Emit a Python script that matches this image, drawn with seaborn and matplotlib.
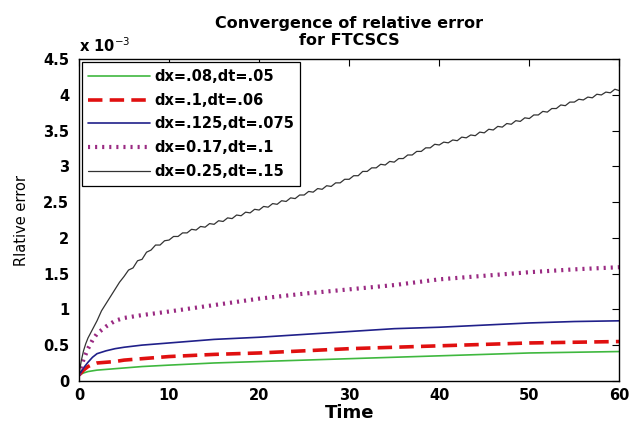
import matplotlib
matplotlib.use("Agg")
import matplotlib.pyplot as plt
import seaborn as sns
import pandas as pd

# ---- data (relative error in units of 1e-3) ----
t_coarse = [0, 0.5, 1, 1.5, 2, 3, 4, 5, 7, 10, 15, 20, 25, 30, 35, 40, 45, 50, 55, 60]
err_008 = [0.08, 0.11, 0.13, 0.14, 0.15, 0.16, 0.17, 0.18, 0.20, 0.22, 0.25, 0.27,
           0.29, 0.31, 0.33, 0.35, 0.37, 0.39, 0.40, 0.41]
err_010 = [0.08, 0.15, 0.20, 0.23, 0.25, 0.26, 0.27, 0.29, 0.31, 0.34, 0.37, 0.39,
           0.42, 0.45, 0.47, 0.49, 0.51, 0.53, 0.54, 0.55]
err_0125 = [0.08, 0.18, 0.26, 0.33, 0.38, 0.42, 0.45, 0.47, 0.50, 0.53, 0.58, 0.61,
            0.65, 0.69, 0.73, 0.75, 0.78, 0.81, 0.83, 0.84]
err_017 = [0.08, 0.30, 0.45, 0.57, 0.66, 0.76, 0.84, 0.88, 0.92, 0.97, 1.06, 1.15,
           1.22, 1.28, 1.34, 1.42, 1.47, 1.52, 1.56, 1.59]

t_fine = [0, 0.25, 0.5, 0.75, 1, 1.5, 2, 2.5, 3, 3.5, 4, 4.5, 5, 5.5, 6, 6.5, 7, 7.5,
          8, 8.5, 9, 9.5, 10, 10.5, 11, 11.5, 12, 12.5, 13, 13.5, 14, 14.5, 15, 15.5,
          16, 16.5, 17, 17.5, 18, 18.5, 19, 19.5, 20, 20.5, 21, 21.5, 22, 22.5, 23, 23.5,
          24, 24.5, 25, 25.5, 26, 26.5, 27, 27.5, 28, 28.5, 29, 29.5, 30, 30.5, 31, 31.5,
          32, 32.5, 33, 33.5, 34, 34.5, 35, 35.5, 36, 36.5, 37, 37.5, 38, 38.5, 39, 39.5,
          40, 40.5, 41, 41.5, 42, 42.5, 43, 43.5, 44, 44.5, 45, 45.5, 46, 46.5, 47, 47.5,
          48, 48.5, 49, 49.5, 50, 50.5, 51, 51.5, 52, 52.5, 53, 53.5, 54, 54.5, 55, 55.5,
          56, 56.5, 57, 57.5, 58, 58.5, 59, 59.5, 60]
err_025 = [0.08, 0.28, 0.42, 0.52, 0.60, 0.72, 0.84, 0.98, 1.08, 1.18, 1.28, 1.38,
           1.46, 1.55, 1.58, 1.68, 1.70, 1.80,
           1.83, 1.90, 1.90, 1.96, 1.97, 2.02, 2.02, 2.07, 2.07, 2.12, 2.11, 2.16,
           2.15, 2.20, 2.19, 2.24, 2.23, 2.28, 2.27, 2.32, 2.31, 2.36, 2.35, 2.40,
           2.39, 2.44, 2.43, 2.48, 2.47, 2.52, 2.51, 2.56, 2.55, 2.60, 2.60, 2.65,
           2.64, 2.69, 2.68, 2.73, 2.72, 2.77, 2.77, 2.82, 2.82, 2.87, 2.87, 2.93,
           2.93, 2.98, 2.98, 3.03, 3.02, 3.07, 3.06, 3.11, 3.11, 3.16, 3.16, 3.21,
           3.21, 3.26, 3.26, 3.31, 3.30, 3.34, 3.33, 3.37, 3.36, 3.41, 3.40, 3.44,
           3.43, 3.48, 3.47, 3.52, 3.51, 3.56, 3.55, 3.60, 3.59, 3.64, 3.63, 3.68,
           3.67, 3.72, 3.72, 3.77, 3.76, 3.81, 3.81, 3.86, 3.85, 3.90, 3.90, 3.94,
           3.93, 3.97, 3.96, 4.01, 4.00, 4.04, 4.03, 4.08, 4.06]

labels = ["dx=.08,dt=.05", "dx=.1,dt=.06", "dx=.125,dt=.075",
          "dx=0.17,dt=.1", "dx=0.25,dt=.15"]
x_ticks = [0, 10, 20, 30, 40, 50, 60]
y_ticks = [0, 0.5, 1, 1.5, 2, 2.5, 3, 3.5, 4, 4.5]
y_tick_labels = ["0", "0.5", "1", "1.5", "2", "2.5", "3", "3.5", "4", "4.5"]

sns.set_style("white")
plt.rcParams["font.family"] = ["DejaVu Sans"]
for k in ["text.color", "axes.labelcolor", "xtick.color", "ytick.color"]:
    plt.rcParams[k] = "black"

fig = plt.figure(figsize=(6.32, 4.26), dpi=100)
ax = fig.add_axes([0.125, 0.106, 0.855, 0.755])

series = [
    (t_coarse, err_008, labels[0], dict(color="#3fb83f", lw=1.2, ls="-")),
    (t_coarse, err_010, labels[1], dict(color="#e01010", lw=2.6, dashes=(4, 2))),
    (t_coarse, err_0125, labels[2], dict(color="#20208a", lw=1.2, ls="-")),
    (t_coarse, err_017, labels[3], dict(color="#9a2a82", lw=3.0, dashes=(0.5, 1.2))),
    (t_fine, err_025, labels[4], dict(color="#333333", lw=0.9, ls="-")),
]
for tx, ey, lab, st in series:
    df = pd.DataFrame({"Time": tx, "err": ey})
    kw = dict(color=st["color"], linewidth=st["lw"])
    if "dashes" in st:
        sns.lineplot(data=df, x="Time", y="err", ax=ax, label=lab, **kw)
        ax.lines[-1].set_dashes(st["dashes"])
    else:
        sns.lineplot(data=df, x="Time", y="err", ax=ax, label=lab, linestyle=st["ls"], **kw)

ax.set_xlim(0, 60)
ax.set_ylim(0, 4.5)
ax.set_xticks(x_ticks)
ax.set_xticklabels([str(v) for v in x_ticks], fontweight="bold", fontsize=10.5)
ax.set_yticks(y_ticks)
ax.set_yticklabels(y_tick_labels, fontweight="bold", fontsize=10.5)
ax.tick_params(direction="in", length=5, width=0.8, top=True, right=True,
               color="black")
ax.tick_params(axis="y", pad=7)
ax.tick_params(axis="x", pad=5)
for s in ax.spines.values():
    s.set_color("black")
    s.set_linewidth(1.0)

ax.set_xlabel("Time", fontweight="bold", fontsize=13, labelpad=1)
ax.set_ylabel("Rlative error", fontsize=10.5, labelpad=10)
ax.set_title("Convergence of relative error\nfor FTCSCS", fontweight="bold",
             fontsize=11.5, pad=10, linespacing=1.2)
ax.text(0.0, 1.012, "x 10$^{-3}$", transform=ax.transAxes, fontsize=10.5,
        fontweight="bold", ha="left", va="bottom")

leg = ax.legend(loc="upper left", bbox_to_anchor=(0.005, 0.99), frameon=True,
                fancybox=False, edgecolor="black", framealpha=1,
                prop=dict(weight="bold", size=10.5), handlelength=4.2,
                handletextpad=0.3, borderpad=0.45, labelspacing=0.6,
                borderaxespad=0)
leg.get_frame().set_linewidth(0.9)

fig.savefig("out.png", dpi=100)
